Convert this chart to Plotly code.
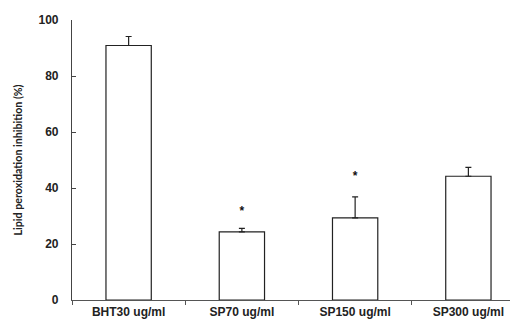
import plotly.graph_objects as go

categories = ["BHT30 ug/ml", "SP70 ug/ml", "SP150 ug/ml", "SP300 ug/ml"]
values = [90.9, 24.3, 29.3, 44.2]
errors = [3.2, 1.3, 7.5, 3.2]
star_labels = ["", "*", "*", ""]
star_y = [None, 31.6, 44.0, None]
y_ticks = [0, 20, 40, 60, 80, 100]

font_family = "Liberation Sans, Arial, sans-serif"
title_family = "Lato, Liberation Sans, sans-serif"

fig = go.Figure()
fig.add_trace(go.Bar(
    x=categories, y=values, width=0.4,
    marker=dict(color="white", line=dict(color="#222222", width=1.2)),
    error_y=dict(type="data", array=errors, arrayminus=[0] * len(errors),
                 symmetric=False, color="#222222", thickness=1.2, width=3),
    showlegend=False,
))
fig.add_trace(go.Scatter(
    x=categories, y=star_y, mode="text", text=star_labels,
    textfont=dict(family=font_family, size=12, color="#111111", weight="bold"),
    showlegend=False,
))

fig.update_layout(
    width=518, height=322,
    margin=dict(l=64, r=1, t=12, b=30),
    paper_bgcolor="white", plot_bgcolor="white",
    font=dict(family=font_family, color="#222222"),
)
fig.update_xaxes(
    range=[-0.5, 3.5], showline=True, linecolor="#555555", linewidth=1.2,
    ticks="outside", ticklen=4, tickcolor="#555555", tickson="boundaries",
    tickfont=dict(family=font_family, size=12, color="#222222", weight="bold"),
    showgrid=False, zeroline=False,
)
fig.update_yaxes(
    range=[0, 100], tickvals=y_ticks, showline=True, linecolor="#444444", linewidth=1.2,
    ticks="inside", ticklen=4, tickcolor="#444444",
    ticklabelstandoff=10,
    tickfont=dict(family=font_family, size=12, color="#222222", weight="bold"),
    title=dict(text="Lipid peroxidation inhibition (%)", standoff=13,
               font=dict(family=title_family, size=10.7, color="#222222", weight="bold")),
    showgrid=False, zeroline=False,
)

fig.write_html("out.html")
